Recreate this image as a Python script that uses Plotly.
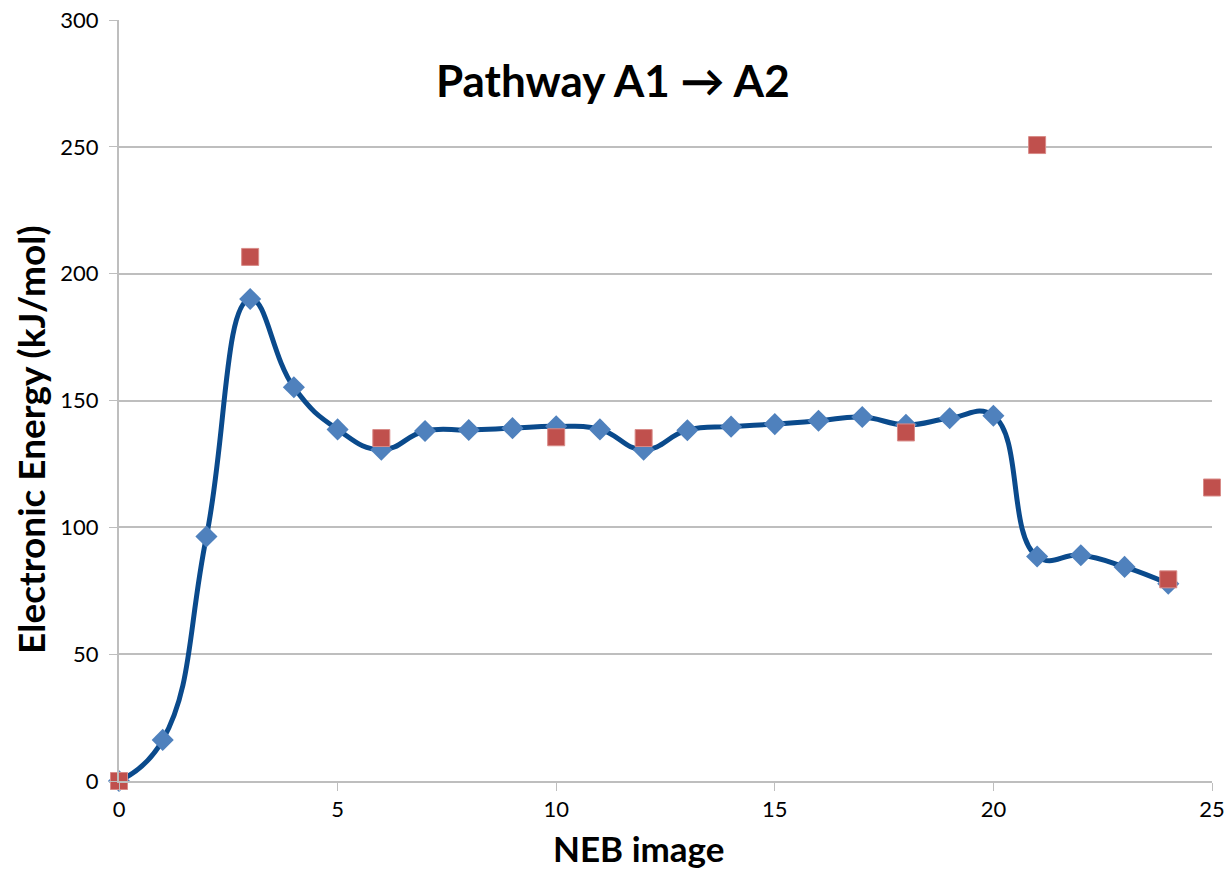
import plotly.graph_objects as go

neb_x = list(range(0, 25))
neb_energy = [0, 16.2, 96.4, 190.0, 155.2, 138.6, 130.6, 138.0, 138.4, 139.1,
              139.8, 138.6, 130.6, 138.3, 139.7, 140.7, 142.0, 143.5, 140.4, 143.0,
              144.0, 88.5, 89.0, 84.4, 77.8]

ref_x = [0, 3, 6, 10, 12, 18, 21, 24, 25]
ref_energy = [0, 206.6, 135.2, 135.5, 135.2, 137.4, 250.7, 79.5, 115.7]

title_text = "Pathway A1 \u2192 A2"
x_title = "NEB image"
y_title = "Electronic Energy (kJ/mol)"
x_ticks = [0, 5, 10, 15, 20, 25]
y_ticks = [0, 50, 100, 150, 200, 250, 300]

FONT = "Lato, 'Open Sans', sans-serif"

fig = go.Figure()
fig.add_trace(go.Scatter(
    x=neb_x, y=neb_energy, mode="lines+markers",
    line=dict(color="#0A4A8C", width=5, shape="spline", smoothing=1.3),
    marker=dict(symbol="diamond", size=17, color="#4F81BD",
                line=dict(width=0)),
    showlegend=False, cliponaxis=False,
))
fig.add_trace(go.Scatter(
    x=ref_x, y=ref_energy, mode="markers",
    marker=dict(symbol="square", size=17, color="#C0504D",
                line=dict(width=1, color="#D88B88")),
    showlegend=False, cliponaxis=False,
))

fig.add_annotation(
    x=0.452, y=0.921, xref="paper", yref="paper",
    xanchor="center", yanchor="middle",
    text="<b>" + title_text + "</b>", showarrow=False,
    font=dict(family=FONT, size=44, color="#000000"),
)
# axis titles placed as annotations (in pixel-equivalent paper offsets)
fig.add_annotation(
    x=(638 - 119) / 1093, y=-(848 - 781) / 761, xref="paper", yref="paper",
    xanchor="center", yanchor="middle",
    text="<b>" + x_title + "</b>", showarrow=False,
    font=dict(family=FONT, size=35, color="#000000"),
)
fig.add_annotation(
    x=-(119 - 30) / 1093, y=(781 - 440) / 761, xref="paper", yref="paper",
    xanchor="center", yanchor="middle", textangle=-90,
    text="<b>" + y_title + "</b>", showarrow=False,
    font=dict(family=FONT, size=37, color="#000000"),
)

fig.update_xaxes(
    range=[0, 25], tickvals=x_ticks, showgrid=False, automargin=False,
    showline=True, linecolor="#BEBEBE", linewidth=2,
    ticks="outside", tickcolor="#BEBEBE", ticklen=8, tickwidth=1,
    tickfont=dict(family=FONT, size=22, color="#000000"),
    zeroline=False,
)
fig.update_yaxes(
    range=[0, 300], tickvals=y_ticks, showgrid=True, automargin=False,
    gridcolor="#BEBEBE", gridwidth=1.5,
    showline=True, linecolor="#BEBEBE", linewidth=2,
    ticks="outside", tickcolor="#BEBEBE", ticklen=8, tickwidth=1,
    tickfont=dict(family=FONT, size=22, color="#000000"),
    ticklabelstandoff=6,
    zeroline=False,
)

fig.update_layout(
    width=1229, height=873,
    margin=dict(l=119, r=17, t=20, b=92),
    plot_bgcolor="white", paper_bgcolor="white",
)

fig.write_html("out.html")
